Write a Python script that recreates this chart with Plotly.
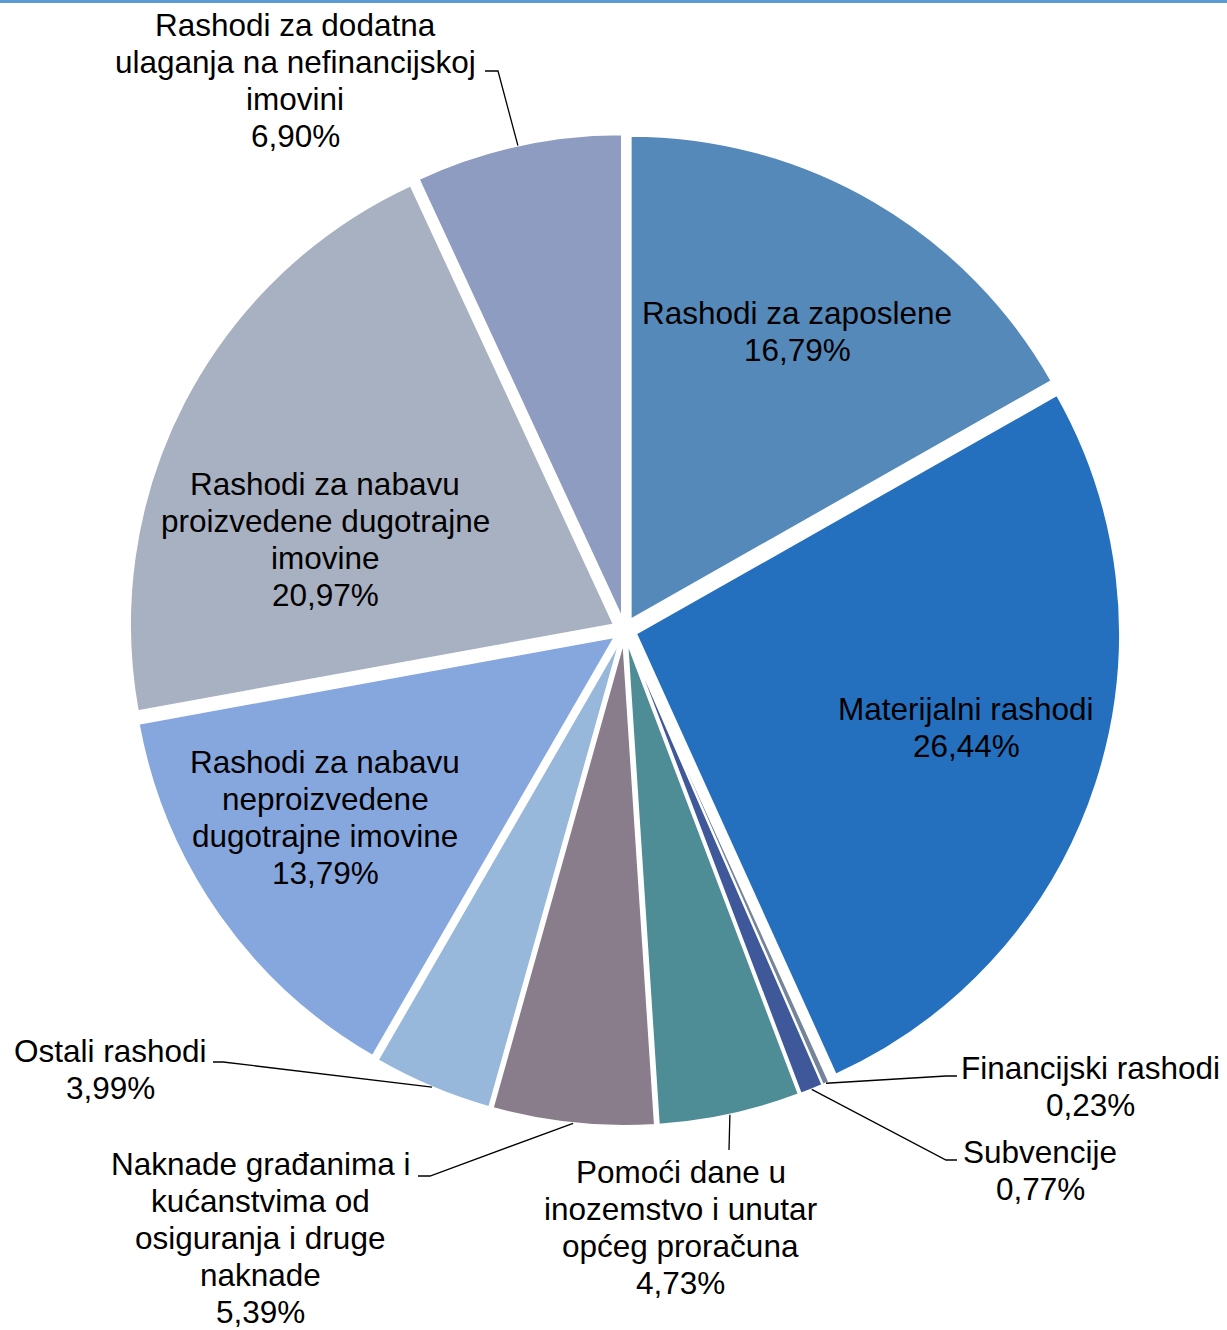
import math
import plotly.graph_objects as go

# ---- data ----
categories = [
    "Rashodi za zaposlene",
    "Materijalni rashodi",
    "Financijski rashodi",
    "Subvencije",
    "Pomoći dane u inozemstvo i unutar općeg proračuna",
    "Naknade građanima i kućanstvima od osiguranja i druge naknade",
    "Ostali rashodi",
    "Rashodi za nabavu neproizvedene dugotrajne imovine",
    "Rashodi za nabavu proizvedene dugotrajne imovine",
    "Rashodi za dodatna ulaganja na nefinancijskoj imovini",
]
values = [16.79, 26.44, 0.23, 0.77, 4.73, 5.39, 3.99, 13.79, 20.97, 6.90]
colors = ["#5589BA", "#2470BE", "#74849A", "#3E5899", "#4F8D96",
          "#8A7D8B", "#97B7DB", "#86A7DE", "#A8B1C2", "#8F9CC1"]

# wrapped label text (name lines) as shown in the chart
label_lines = [
    ["Rashodi za zaposlene"],
    ["Materijalni rashodi"],
    ["Financijski rashodi"],
    ["Subvencije"],
    ["Pomoći dane u", "inozemstvo i unutar", "općeg proračuna"],
    ["Naknade građanima i", "kućanstvima od", "osiguranja i druge", "naknade"],
    ["Ostali rashodi"],
    ["Rashodi za nabavu", "neproizvedene", "dugotrajne imovine"],
    ["Rashodi za nabavu", "proizvedene dugotrajne", "imovine"],
    ["Rashodi za dodatna", "ulaganja na nefinancijskoj", "imovini"],
]

# ---- layout (pixels) ----
W, H = 1227, 1330
CX, CY = 624.6, 630.0      # pie centre
R = 484.0                  # pie radius
PULL = 0.0248
R0 = R * (1 + PULL)

# label block: centre x, first-line y
label_pos = [
    (797, 313), (966, 709), (1090, 1068), (1040, 1152), (681, 1172),
    (260, 1164), (110, 1051), (325, 762), (325, 484), (295, 25),
]
LINE_STEP = 37
# leader lines: (elbow x, elbow y, end x) or None
leaders = [
    None, None,
    (946, 1076, 957),
    (946, 1160, 957),
    (729, 1150, 729),
    (430, 1176, 418),
    (223, 1062, 213),
    None, None,
    (498, 71, 485),
]

FONT = dict(family="Liberation Sans, Arial, sans-serif", size=31.5, color="black")


def px(x):
    return x / W


def py(y):
    return 1 - y / H


fig = go.Figure(go.Pie(
    labels=categories,
    values=values,
    sort=False,
    direction="clockwise",
    rotation=0,
    marker=dict(colors=colors, line=dict(color="white", width=2)),
    pull=[PULL] * len(values),
    textinfo="none",
    hoverinfo="label+percent",
    showlegend=False,
    domain=dict(x=[px(CX - R0), px(CX + R0)], y=[py(CY + R0), py(CY - R0)]),
))

annotations = []
shapes = []
total = sum(values)
cum = 0.0
for i, v in enumerate(values):
    mid = (cum + v / 2) / total * 2 * math.pi
    cum += v
    lines = label_lines[i] + [f"{v:.2f}".replace(".", ",") + "%"]
    lx, ly = label_pos[i]
    for k, t in enumerate(lines):
        annotations.append(dict(
            x=px(lx), y=py(ly + k * LINE_STEP), xref="paper", yref="paper",
            text=t, showarrow=False, xanchor="center", yanchor="middle",
            font=FONT,
        ))
    if leaders[i] is not None:
        ex, ey, endx = leaders[i]
        sx = CX + R0 * math.sin(mid)
        sy = CY - R0 * math.cos(mid)
        if endx == ex:
            path = f"M {px(sx)},{py(sy)} L {px(ex)},{py(ey)}"
        else:
            path = (f"M {px(sx)},{py(sy)} L {px(ex)},{py(ey)} "
                    f"L {px(endx)},{py(ey)}")
        shapes.append(dict(type="path", path=path, xref="paper", yref="paper",
                           line=dict(color="black", width=1.3)))

# top rule
shapes.append(dict(type="rect", xref="paper", yref="paper",
                   x0=0, x1=1, y0=py(3), y1=1,
                   fillcolor="#5B9BD5", line=dict(width=0)))

fig.update_layout(
    width=W, height=H,
    margin=dict(l=0, r=0, t=0, b=0),
    paper_bgcolor="white", plot_bgcolor="white",
    annotations=annotations, shapes=shapes,
)

fig.write_html("out.html",
               config={"displayModeBar": False},
               post_script="document.body.style.margin='0';"
                           "document.body.style.overflow='hidden';")
